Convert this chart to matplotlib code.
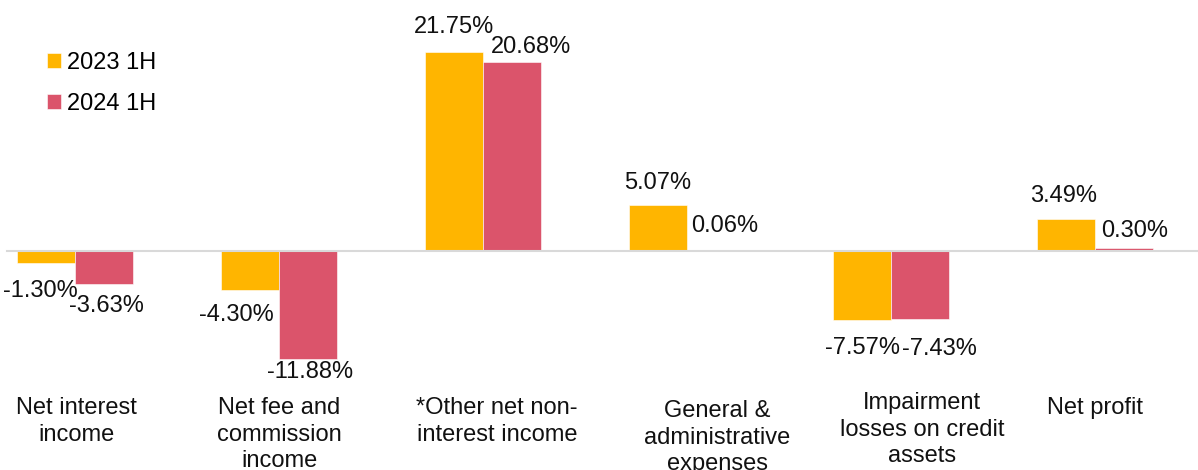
import matplotlib
matplotlib.use("Agg")
import matplotlib.pyplot as plt
import numpy as np

plt.rcParams['font.family'] = ['Liberation Sans', 'DejaVu Sans']

# growth rates, %
categories = ["Net interest\nincome",
              "Net fee and\ncommission\nincome",
              "*Other net non-\ninterest income",
              "General &\nadministrative\nexpenses",
              "Impairment\nlosses on credit\nassets",
              "Net profit"]
series_names = ["2023 1H", "2024 1H"]
h1_2023 = [-1.30, -4.30, 21.75, 5.07, -7.57, 3.49]
h1_2024 = [-3.63, -11.88, 20.68, 0.06, -7.43, 0.30]

colors = ["#FFB500", "#DB546B"]
bar_w = 0.284
fs = 17

# label nudges in pixels (dx, dy from bar end)
lab_off_2023 = [(-6, -34), (-14, -31), (0, 19), (0, 16), (0, -34), (-2, 17)]
lab_off_2024 = [(2, -28), (2, -19), (19, 9), (9, 18), (19, -36), (11, 11)]
cat_off = [(1, -146), (0, -146), (14, -146), (30, -149), (31, -141), (0, -146)]

fig = plt.figure(figsize=(11.98, 4.70), dpi=100)
ax = fig.add_axes([0, 0, 1, 1])
ax.set_axis_off()

x = np.arange(len(categories))
b1 = ax.bar(x - bar_w / 2, h1_2023, bar_w, color=colors[0], edgecolor='white',
            linewidth=0.4, label=series_names[0], zorder=2)
b2 = ax.bar(x + bar_w / 2, h1_2024, bar_w, color=colors[1], edgecolor='white',
            linewidth=0.4, label=series_names[1], zorder=2)

ax.axhline(0, xmin=7 / 1198, xmax=1, color='#d9d9d9', lw=1.5, zorder=3)

for bars, vals, offs in [(b1, h1_2023, lab_off_2023), (b2, h1_2024, lab_off_2024)]:
    for rect, v, (dx, dy) in zip(bars, vals, offs):
        ax.annotate(f"{v:.2f}%", (rect.get_x() + rect.get_width() / 2, v),
                    xytext=(dx, dy), textcoords='offset pixels',
                    ha='center', va='baseline', fontsize=fs, color='#111111')

for i, (lab, (dx, dy)) in enumerate(zip(categories, cat_off)):
    ax.annotate(lab, (x[i], 0), xytext=(dx, dy), textcoords='offset pixels',
                ha='center', va='top', fontsize=fs, linespacing=1.28,
                multialignment='center', color='#111111')

ax.set_xlim(-0.368, 5.505)
ax.set_ylim(-24.01, 27.47)

ax.legend(handles=[b1, b2], loc='upper left', bbox_to_anchor=(47 / 1198, 1 - 52 / 470),
          bbox_transform=fig.transFigure, frameon=False, fontsize=fs,
          handlelength=0.58, handleheight=0.58, handletextpad=0.25,
          labelspacing=0.8, borderpad=0, borderaxespad=0)

fig.savefig("out.png", dpi=100)
